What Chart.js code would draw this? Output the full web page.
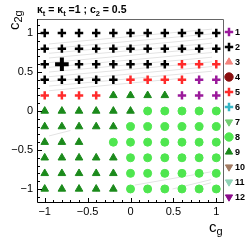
<!DOCTYPE html>
<html><head><meta charset="utf-8">
<script src="https://cdn.jsdelivr.net/npm/chart.js@4/dist/chart.umd.min.js"></script>
<style>html,body{margin:0;padding:0;background:#fff}#wrap{width:249px;height:240px;position:relative}</style>
</head><body><div id="wrap"><canvas id="c" width="249" height="240"></canvas></div>
<script>
// ---- data ----
const classIds = ['1','2','3','4','5','6','7','8','9','10','11','12'];
const xValues = [-1,-0.8,-0.6,-0.4,-0.2,0,0.2,0.4,0.6,0.8,1];
const yValues = [1,0.8,0.6,0.4,0.2,0,-0.2,-0.4,-0.6,-0.8,-1];
// class id at each grid point, one row per y value (0 = no point)
const row_p10 = [2,2,2,2,2,2,2,2,2,2,2];
const row_p08 = [2,2,2,2,2,2,2,2,2,2,2];
const row_p06 = [2,2,2,2,2,2,2,2,5,5,5];
const row_p04 = [2,2,2,2,2,5,5,5,5,1,1];
const row_p02 = [5,5,5,5,9,9,9,9,1,1,1];
const row_p00 = [9,9,9,9,9,9,8,8,8,8,8];
const row_m02 = [9,9,9,9,9,8,8,8,8,8,8];
const row_m04 = [9,9,9,0,8,8,8,8,8,8,8];
const row_m06 = [9,9,9,9,9,8,8,8,8,8,8];
const row_m08 = [9,9,9,9,9,8,8,8,8,8,8];
const row_m10 = [9,9,9,9,9,8,8,8,8,8,8];
const classGrid = [row_p10,row_p08,row_p06,row_p04,row_p02,row_p00,row_m02,row_m04,row_m06,row_m08,row_m10];
const highlightX = [-0.8];
const highlightY = [0.6];
// faint grey band lines: [x0, y0, x1, y1]
const bandLines = [
  [-0.95,0.86,0.95,1.05],[-0.95,0.80,0.95,0.99],[-0.95,0.74,0.95,0.93],[-0.95,0.68,0.95,0.87],
  [-0.95,0.62,0.95,0.81],[-0.95,0.56,0.95,0.75],[-0.95,0.50,0.95,0.69],[-0.95,0.44,0.95,0.63],
  [-0.95,0.38,0.95,0.57],[-0.95,0.32,0.95,0.51],[-0.95,0.26,0.60,0.42],
  [-0.95,-0.32,-0.70,-0.25],
  [0.05,-0.95,0.94,-0.78],[0.49,-1.0,0.94,-0.88],[0.84,-0.95,0.94,-0.92]
];
const xTickValues = [-1,-0.5,0,0.5,1];
const yTickValues = [-1,-0.5,0,0.5,1];

// ---- styles ----
const classStyle = {
  '1':{shape:'cross',rot:0,color:'#9b1a9b'},
  '2':{shape:'cross',rot:0,color:'#000000'},
  '3':{shape:'triangle',rot:0,color:'#f4837d'},
  '4':{shape:'circle',rot:0,color:'#8a0f0f'},
  '5':{shape:'cross',rot:0,color:'#ff2b2b'},
  '6':{shape:'cross',rot:0,color:'#35b6c6'},
  '7':{shape:'triangle',rot:180,color:'#72cf72'},
  '8':{shape:'circle',rot:0,color:'#4fe64f'},
  '9':{shape:'triangle',rot:0,color:'#1b8a1b'},
  '10':{shape:'triangle',rot:180,color:'#a27a62'},
  '11':{shape:'triangle',rot:180,color:'#8fd3b5'},
  '12':{shape:'triangle',rot:180,color:'#8b0a8b'}
};
function markerRadius(shape){ return shape==='cross'?4.2:(shape==='triangle'?4.4:4.0); }

const datasets = [];
classIds.forEach(id => {
  const pts = [];
  classGrid.forEach((row, r) => row.forEach((v, c) => { if (String(v) === id) pts.push({x:xValues[c], y:yValues[r]}); }));
  const st = classStyle[id];
  datasets.push({label:id, data:pts, pointStyle:st.shape, pointRotation:st.rot,
    pointRadius:markerRadius(st.shape), pointBackgroundColor:st.color, pointBorderColor:st.color,
    pointBorderWidth: st.shape==='cross'?2.5:1, order:1});
});
datasets.push({label:'hl', data: highlightX.map((x,i)=>({x, y:highlightY[i]})), pointStyle:'cross',
  pointRadius:6.8, pointBorderColor:'#000', pointBackgroundColor:'#000', pointBorderWidth:4, order:0});
bandLines.forEach((l,i) => datasets.push({label:'band'+i, data:[{x:l[0],y:l[1]},{x:l[2],y:l[3]}], showLine:true,
  borderColor:'#e3e3e3', borderWidth:1, pointRadius:0, order:20}));

const FONT = "'Liberation Sans', Arial, sans-serif";
function fmt(v){ const s = String(Math.round(v*10)/10); return v < 0 ? '\u2212' + s.slice(1) : s; }

function drawRich(ctx, parts, x, y){
  parts.forEach(p => { ctx.font = p.font; ctx.fillText(p.t, x, y + (p.dy||0)); x += ctx.measureText(p.t).width; });
}

const decor = {
  id:'decor',
  afterDraw(chart){
    const ctx = chart.ctx, a = chart.chartArea, xs = chart.scales.x, ys = chart.scales.y;
    ctx.save();
    ctx.lineWidth = 1;
    ctx.strokeStyle = '#666';
    ctx.beginPath(); ctx.moveTo(a.left, a.top+0.5); ctx.lineTo(a.right-0.5, a.top+0.5); ctx.lineTo(a.right-0.5, a.bottom); ctx.stroke();
    ctx.strokeStyle = '#000';
    ctx.beginPath(); ctx.moveTo(a.left+0.5, a.top); ctx.lineTo(a.left+0.5, a.bottom-0.5); ctx.lineTo(a.right, a.bottom-0.5); ctx.stroke();
    ctx.beginPath();
    for (let i = -10; i <= 10; i++) {
      const v = i/10, px = Math.round(xs.getPixelForValue(v)) + 0.5;
      const len = (i % 5 === 0) ? 5 : 3;
      ctx.moveTo(px, a.bottom); ctx.lineTo(px, a.bottom - len);
    }
    for (let i = -11; i <= 11; i++) {
      const v = i/10, py = Math.round(ys.getPixelForValue(v)) + 0.5;
      const len = (i % 5 === 0) ? 5 : 3;
      ctx.moveTo(a.left, py); ctx.lineTo(a.left + len, py);
    }
    ctx.stroke();
    ctx.fillStyle = '#000'; ctx.textBaseline = 'alphabetic'; ctx.textAlign = 'left';
    const B = 'bold 10.5px ' + FONT, BS = 'bold 7.5px ' + FONT;
    drawRich(ctx, [{t:'\u03ba',font:B},{t:'t',font:BS,dy:2.5},{t:' = \u03ba',font:B},{t:'t',font:BS,dy:2.5},
      {t:' =1 ; c',font:B},{t:'2',font:BS,dy:2.5},{t:' = 0.5',font:B}], 37, 13);
    drawRich(ctx, [{t:'c',font:'15px '+FONT},{t:'g',font:'11px '+FONT,dy:3}], 209, 232);
    ctx.save(); ctx.translate(19, 30); ctx.rotate(-Math.PI/2);
    drawRich(ctx, [{t:'c',font:'15px '+FONT},{t:'2g',font:'11px '+FONT,dy:3}], 0, 0);
    ctx.restore();
    const H = Chart.helpers;
    classIds.forEach((id, i) => {
      const st = classStyle[id], y = 32 + i*15, x = 229;
      ctx.fillStyle = st.color; ctx.strokeStyle = st.color;
      ctx.lineWidth = st.shape==='cross' ? 2.5 : 1;
      H.drawPoint(ctx, {pointStyle:st.shape, rotation:st.rot, radius:4.2, borderWidth:ctx.lineWidth}, x, y);
      ctx.fillStyle = '#000'; ctx.font = 'bold 9px ' + FONT; ctx.textBaseline = 'middle';
      ctx.fillText(id, 235, y + 0.5);
    });
    ctx.restore();
  }
};

new Chart(document.getElementById('c'), {
  type:'scatter',
  data:{datasets},
  options:{
    responsive:false, animation:false, devicePixelRatio:1,
    layout:{padding:{top:19, right:25, left:0, bottom:0}},
    plugins:{legend:{display:false}, tooltip:{enabled:false}, title:{display:false}},
    scales:{
      x:{type:'linear', min:-1.09, max:1.09, grid:{display:false, drawTicks:false}, border:{display:false},
         afterBuildTicks(s){ s.ticks = xTickValues.map(v=>({value:v})); },
         afterFit(s){ s.height = 37; },
         ticks:{padding:2, color:'#000', font:{family:FONT, size:11}, maxRotation:0, callback:v=>fmt(v)}},
      y:{type:'linear', min:-1.18, max:1.18, grid:{display:false, drawTicks:false}, border:{display:false},
         afterBuildTicks(s){ s.ticks = yTickValues.map(v=>({value:v})); },
         afterFit(s){ s.width = 37; },
         ticks:{padding:4, color:'#000', font:{family:FONT, size:11}, callback:v=>fmt(v)}}
    }
  },
  plugins:[decor]
});
</script></body></html>
